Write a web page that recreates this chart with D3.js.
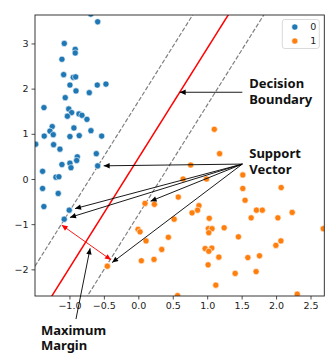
<!DOCTYPE html>
<html>
<head>
<meta charset="utf-8">
<script src="https://cdn.jsdelivr.net/npm/d3@7"></script>
<style>
body { margin: 0; background: #fff; }
svg { display: block; font-family: "DejaVu Sans", sans-serif; }
.note { font-family: "Noto Sans", sans-serif; font-weight: bold; font-size: 13px; fill: #111; }
</style>
</head>
<body>
<div class="chart"></div>
<script>
// class 0 (blue)
const class0X = [-0.69, -0.59, -1.075, -0.916, -0.916, -1.109, -1.084, -0.945, -0.91, -0.993,
    -0.905, -0.596, -0.47, -0.712, -1.061, -1.37, -1.01, -0.968, -1.03, -0.862,
    -0.818, -0.746, -1.25, -1.283, -0.935, -0.688, -1.366, -1.235, -0.993, -0.858,
    -0.532, -1.49, -1.23, -1.138, -0.886, -0.895, -0.61, -1.109, -0.993, -0.978,
    -0.59, -1.39, -1.196, -1.153, -1.39, -1.163, -1.371, -1.003, -1.076];
const class0Y = [3.65, 3.48, 3.0, 2.87, 2.79, 2.65, 2.31, 2.25, 2.26, 2.08,
    1.95, 2.08, 2.10, 1.91, 1.80, 1.58, 1.55, 1.47, 1.39, 1.44,
    1.41, 1.32, 1.16, 1.06, 1.13, 1.07, 0.95, 0.98, 0.94, 0.96,
    0.95, 0.77, 0.76, 0.66, 0.49, 0.41, 0.56, 0.32, 0.35, 0.25,
    0.29, 0.17, 0.04, 0.05, -0.21, -0.32, -0.61, -0.69, -0.89];
// class 1 (orange)
const class1X = [1.103, 1.18, 0.76, 0.65, 0.99, 1.517, 1.517, 2.074, 0.58, 1.55,
    0.097, 0.233, 0.88, 0.86, 0.78, 1.715, 1.80, 2.234, 1.03, 0.52,
    1.638, 2.026, 1.017, 1.07, 1.023, 1.246, 2.685, 0.436, 1.453, -0.004,
    0.025, 0.112, 2.07, 1.997, 0.34, 0.97, 1.067, 1.023, 1.169, 1.759,
    1.59, 0.044, 0.228, 1.013, -0.45, 1.406, 1.71, 1.125, 0.57, 2.307];
const class1Y = [1.10, 0.56, 0.31, 0.0, 0.0, 0.09, -0.21, -0.19, -0.40, -0.47,
    -0.54, -0.56, -0.59, -0.69, -0.75, -0.69, -0.69, -0.74, -0.87, -0.89,
    -0.86, -0.86, -1.10, -1.10, -1.19, -1.08, -1.10, -1.29, -1.28, -1.115,
    -1.17, -1.37, -1.37, -1.47, -1.56, -1.54, -1.53, -1.60, -1.73, -1.70,
    -1.74, -1.81, -1.78, -1.90, -1.93, -2.09, -2.05, -2.35, -2.58, -2.55];

const classLabels = ["0", "1"];
const classColors = ["#1f77b4", "#ff7f0e"];
const xTicks = [-1.0, -0.5, 0.0, 0.5, 1.0, 1.5, 2.0, 2.5];
const yTicks = [-2, -1, 0, 1, 2, 3];

// separating line y = slope*x + intercept, margins at +-offset
const boundary = [2.43, 0.46];
const marginOffset = 1.254;

// the support vectors the arrows point to
const supportX = [-0.59, -1.003, -1.076, 0.097, -0.45];
const supportY = [0.29, -0.69, -0.89, -0.54, -1.93];

const W = 335, H = 364;
const margin = { top: 15, right: 10.7, bottom: 68, left: 35 };
let svg, plot, x, y;

function lineAt(off) {
    // endpoints of y = slope*x + intercept + off over the x domain
    const [x0, x1] = x.domain();
    return [[x0, boundary[0] * x0 + boundary[1] + off], [x1, boundary[0] * x1 + boundary[1] + off]];
}

function shrink(p0, p1, d) {
    // move p1 back towards p0 by d pixels
    const dx = p1[0] - p0[0], dy = p1[1] - p0[1];
    const len = Math.sqrt(dx * dx + dy * dy);
    return [p1[0] - dx / len * d, p1[1] - dy / len * d];
}

function draw() {
    svg = d3.select('div.chart').append('svg')
        .attr('width', W)
        .attr('height', H);

    x = d3.scaleLinear().domain([-1.5, 2.7]).range([margin.left, W - margin.right]);
    y = d3.scaleLinear().domain([-2.59, 3.63]).range([H - margin.bottom, margin.top]);

    const defs = svg.append('defs');
    defs.append('clipPath').attr('id', 'clip')
        .append('rect')
        .attr('x', margin.left).attr('y', margin.top)
        .attr('width', W - margin.left - margin.right)
        .attr('height', H - margin.top - margin.bottom);

    [['headBlack', '#000'], ['headRed', 'red']].forEach(([id, c]) => {
        defs.append('marker')
            .attr('id', id)
            .attr('viewBox', '0 -5 10 10')
            .attr('refX', 10)
            .attr('refY', 0)
            .attr('markerUnits', 'userSpaceOnUse')
            .attr('markerWidth', 8)
            .attr('markerHeight', 6)
            .attr('orient', 'auto-start-reverse')
            .append('path')
            .attr('d', 'M0,-4.5L10,0L0,4.5Z')
            .attr('fill', c);
    });

    // axes
    svg.append('g')
        .attr('transform', `translate(0,${H - margin.bottom})`)
        .call(d3.axisBottom(x).tickValues(xTicks).tickFormat(d3.format('.1f')).tickSizeOuter(0).tickSize(3.5).tickPadding(3))
        .call(g => g.select('.domain').remove())
        .selectAll('text').attr('font-size', 9.5).attr('font-family', 'DejaVu Sans').attr('fill', '#222');
    svg.append('g')
        .attr('transform', `translate(${margin.left},0)`)
        .call(d3.axisLeft(y).tickValues(yTicks).tickFormat(d3.format('d')).tickSizeOuter(0).tickSize(3.5).tickPadding(3))
        .call(g => g.select('.domain').remove())
        .selectAll('text').attr('font-size', 9.5).attr('font-family', 'DejaVu Sans').attr('fill', '#222');
    svg.selectAll('.tick line').attr('stroke', '#222').attr('stroke-width', 0.8);

    plot = svg.append('g').attr('clip-path', 'url(#clip)');

    const line = d3.line().x(d => x(d[0])).y(d => y(d[1]));
    [marginOffset, -marginOffset].forEach(off => {
        plot.append('path')
            .attr('d', line(lineAt(off)))
            .attr('stroke', 'grey')
            .attr('stroke-width', 1.2)
            .attr('stroke-dasharray', '4.4,1.9')
            .attr('fill', 'none');
    });
    plot.append('path')
        .attr('d', line(lineAt(0)))
        .attr('stroke', 'red')
        .attr('stroke-width', 1.5)
        .attr('fill', 'none');

    const pts = class0X.map((v, i) => ({ x: v, y: class0Y[i], c: 0 }))
        .concat(class1X.map((v, i) => ({ x: v, y: class1Y[i], c: 1 })));
    plot.selectAll('.dot')
        .data(pts)
        .enter().append('circle')
        .attr('class', 'dot')
        .attr('cx', d => x(d.x))
        .attr('cy', d => y(d.y))
        .attr('r', 3.1)
        .attr('fill', d => classColors[d.c])
        .attr('stroke', '#fff')
        .attr('stroke-width', 0.6);

    // frame
    svg.append('rect')
        .attr('x', margin.left).attr('y', margin.top)
        .attr('width', W - margin.left - margin.right)
        .attr('height', H - margin.top - margin.bottom)
        .attr('fill', 'none')
        .attr('stroke', '#222')
        .attr('stroke-width', 0.9);

    // legend
    const lg = svg.append('g').attr('transform', `translate(${W - margin.right - 42},${margin.top + 4.5})`);
    lg.append('rect')
        .attr('width', 37).attr('height', 29).attr('rx', 2.5)
        .attr('fill', '#fff').attr('fill-opacity', 0.8)
        .attr('stroke', '#d0d0d0').attr('stroke-width', 0.8);
    classLabels.forEach((lab, i) => {
        lg.append('circle').attr('cx', 12.5).attr('cy', 7.5 + i * 14).attr('r', 3.1)
            .attr('fill', classColors[i]).attr('stroke', '#fff').attr('stroke-width', 0.6);
        lg.append('text').attr('x', 28).attr('y', 7.5 + i * 14).attr('dy', '0.35em')
            .attr('font-size', 9.5).attr('fill', '#222').text(lab);
    });

    annotate();
}

function arrow(p0, p1, color, both) {
    svg.append('line')
        .attr('x1', p0[0]).attr('y1', p0[1])
        .attr('x2', p1[0]).attr('y2', p1[1])
        .attr('stroke', color)
        .attr('stroke-width', 0.9)
        .attr('marker-end', color == 'red' ? 'url(#headRed)' : 'url(#headBlack)')
        .attr('marker-start', both ? 'url(#headRed)' : null);
}

function note(lines, px, py) {
    const t = svg.append('text').attr('class', 'note').attr('x', px).attr('y', py);
    lines.forEach((s, i) => {
        t.append('tspan').attr('x', px).attr('dy', i ? 15.5 : 0).text(s);
    });
}

function annotate() {
    // decision boundary
    const dStart = [x(1.51), y(1.92)];
    const dEnd = [x((1.92 - boundary[1]) / boundary[0]), y(1.92)];
    arrow(dStart, dEnd, '#000');
    note(['Decision', 'Boundary'], x(1.61), y(2.01));

    // support vectors
    const sStart = [x(1.51), y(0.33)];
    supportX.forEach((v, i) => {
        arrow(sStart, shrink(sStart, [x(v), y(supportY[i])], 6), '#000');
    });
    note(['Support', 'Vector'], x(1.61), y(0.46));

    // margin width, drawn across between the dashed lines
    arrow([x(-1.113), y(-1.02)], [x(-0.397), y(-1.79)], 'red', true);
    arrow([x(-0.905), y(-3.10)], [x(-0.70), y(-1.535)], '#000');
    note(['Maximum', 'Margin'], x(-1.414), y(-3.45));
}

draw();
</script>
</body>
</html>
